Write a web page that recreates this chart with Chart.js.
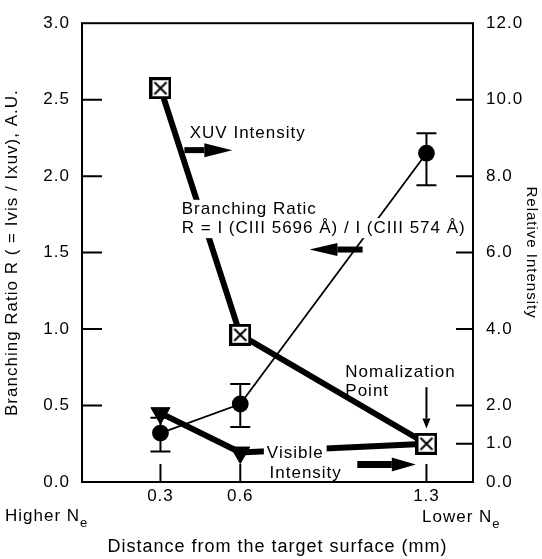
<!DOCTYPE html>
<html>
<head>
<meta charset="utf-8">
<script src="https://cdn.jsdelivr.net/npm/chart.js@4.4.1/dist/chart.umd.min.js"></script>
<style>
  html, body { margin: 0; padding: 0; background: #fff; }
</style>
</head>
<body>
<canvas id="chart" width="542" height="559"></canvas>
<script>
// distance from target surface (mm)
const distances = [0.3, 0.6, 1.3];
// branching ratio R (left axis) with error bar limits
const ratioValues = [0.32, 0.51, 2.15];
const ratioLow = [0.20, 0.36, 1.94];
const ratioHigh = [0.42, 0.64, 2.28];
// relative intensities (right axis), normalised at 1.3 mm
const xuvIntensity = [10.3, 3.85, 1.0];
const visibleIntensity = [1.8, 0.77, 1.0];
// tick labels
const xTicks = [0.3, 0.6, 1.3];
const leftTicks = [0, 0.5, 1.0, 1.5, 2.0, 2.5, 3.0];
const rightTicks = [0, 1, 2, 4, 6, 8, 10, 12];

const FONT = '"Liberation Sans", Arial, sans-serif';
Chart.defaults.font.family = FONT;
Chart.defaults.color = '#000';

function pts(ys) {
  return distances.map((x, i) => ({ x: x, y: ys[i] }));
}

// square with a cross, used for the XUV points
function boxCross(size) {
  const c = document.createElement('canvas');
  c.width = size; c.height = size;
  const g = c.getContext('2d');
  g.fillStyle = '#fff';
  g.fillRect(0, 0, size, size);
  g.strokeStyle = '#000';
  g.lineWidth = 3;
  g.strokeRect(1.5, 1.5, size - 3, size - 3);
  g.lineWidth = 2;
  g.beginPath();
  g.moveTo(5, 5); g.lineTo(size - 5, size - 5);
  g.moveTo(size - 5, 5); g.lineTo(5, size - 5);
  g.stroke();
  return c;
}

function arrow(ctx, x1, y1, x2, y2, w, headLen, headW) {
  const a = Math.atan2(y2 - y1, x2 - x1);
  const bx = x2 - Math.cos(a) * headLen, by = y2 - Math.sin(a) * headLen;
  ctx.lineWidth = w;
  ctx.beginPath();
  ctx.moveTo(x1, y1);
  ctx.lineTo(bx, by);
  ctx.stroke();
  ctx.beginPath();
  ctx.moveTo(x2, y2);
  ctx.lineTo(bx + Math.sin(a) * headW / 2, by - Math.cos(a) * headW / 2);
  ctx.lineTo(bx - Math.sin(a) * headW / 2, by + Math.cos(a) * headW / 2);
  ctx.closePath();
  ctx.fill();
}

const spacing = {
  id: 'spacing',
  beforeDraw(chart) { chart.ctx.letterSpacing = '1px'; }
};

const errorBars = {
  id: 'errorBars',
  beforeDatasetsDraw(chart) {
    const { ctx, scales: { x, y } } = chart;
    ctx.save();
    ctx.strokeStyle = '#000';
    ctx.lineWidth = 2;
    distances.forEach((d, i) => {
      const px = x.getPixelForValue(d);
      const lo = y.getPixelForValue(ratioLow[i]);
      const hi = y.getPixelForValue(ratioHigh[i]);
      ctx.beginPath();
      ctx.moveTo(px, lo); ctx.lineTo(px, hi);
      ctx.moveTo(px - 10, lo); ctx.lineTo(px + 10, lo);
      ctx.moveTo(px - 10, hi); ctx.lineTo(px + 10, hi);
      ctx.stroke();
    });
    ctx.restore();
  }
};

const notes = {
  id: 'notes',
  afterDatasetsDraw(chart) {
    const { ctx, scales: { x, y } } = chart;
    const X = v => x.getPixelForValue(v), Y = v => y.getPixelForValue(v);
    ctx.save();
    ctx.font = '17px ' + FONT;
    ctx.textBaseline = 'middle';
    const label = (t, vx, vy, bg) => {
      const px = X(vx), py = Y(vy);
      if (bg) {
        const w = ctx.measureText(t).width;
        ctx.fillStyle = '#fff';
        ctx.fillRect(px - 3, py - 10, w + 6, 20);
      }
      ctx.fillStyle = '#000';
      ctx.fillText(t, px, py);
    };
    label('XUV Intensity', 0.41, 2.28, true);
    label('Branching Ratic', 0.38, 1.78, true);
    label('R = I (CIII 5696 \u00C5) / I (CIII 574 \u00C5)', 0.38, 1.66, true);
    label('Nomalization', 0.995, 0.72, false);
    label('Point', 0.995, 0.59, false);
    label('Visible', 0.70, 0.19, true);
    label('Intensity', 0.71, 0.06, true);

    ctx.strokeStyle = '#000';
    ctx.fillStyle = '#000';
    arrow(ctx, X(0.39), Y(2.17), X(0.57), Y(2.17), 6, 28, 14);
    arrow(ctx, X(1.06), Y(1.52), X(0.86), Y(1.52), 6, 28, 13);
    arrow(ctx, X(1.30), Y(0.62), X(1.30), Y(0.35), 2, 10, 8);
    arrow(ctx, X(1.04), Y(0.115), X(1.26), Y(0.115), 7, 24, 14);
    ctx.restore();
  }
};

const frame = {
  id: 'frame',
  afterDraw(chart) {
    const { ctx, chartArea: a, scales: { x, y, y2 } } = chart;
    ctx.save();
    ctx.strokeStyle = '#000';
    ctx.lineWidth = 2;
    ctx.strokeRect(a.left, a.top, a.right - a.left, a.bottom - a.top);
    ctx.beginPath();
    leftTicks.slice(1, -1).forEach(v => {
      const py = y.getPixelForValue(v);
      ctx.moveTo(a.left, py); ctx.lineTo(a.left + 20, py);
    });
    rightTicks.slice(1, -1).forEach(v => {
      const py = y2.getPixelForValue(v);
      ctx.moveTo(a.right, py); ctx.lineTo(a.right - 17, py);
    });
    xTicks.forEach(v => {
      const px = x.getPixelForValue(v);
      ctx.moveTo(px, a.bottom); ctx.lineTo(px, a.bottom - 18);
    });
    ctx.stroke();

    // density labels under the axis ends
    ctx.fillStyle = '#000';
    ctx.textBaseline = 'alphabetic';
    const ne = (t, px, py) => {
      ctx.font = '17px ' + FONT;
      ctx.fillText(t, px, py);
      const w = ctx.measureText(t).width;
      ctx.font = '13px ' + FONT;
      ctx.fillText('e', px + w, py + 6);
    };
    ne('Higher N', 5, 521);
    ne('Lower N', 422, 522);
    ctx.restore();
  }
};

new Chart(document.getElementById('chart'), {
  type: 'line',
  data: {
    datasets: [
      {
        label: 'XUV Intensity',
        data: pts(xuvIntensity),
        yAxisID: 'y2',
        borderColor: '#000',
        borderWidth: 6,
        pointStyle: boxCross(22),
        pointRadius: 11,
        order: 0
      },
      {
        label: 'Visible Intensity',
        data: pts(visibleIntensity),
        yAxisID: 'y2',
        borderColor: '#000',
        backgroundColor: '#000',
        borderWidth: 6,
        pointStyle: 'triangle',
        pointRotation: 180,
        pointRadius: 11,
        pointBorderWidth: 1,
        order: 1
      },
      {
        label: 'Branching Ratio',
        data: pts(ratioValues),
        yAxisID: 'y',
        borderColor: '#000',
        backgroundColor: '#000',
        borderWidth: 1.8,
        pointStyle: 'circle',
        pointRadius: 7.5,
        order: 2
      }
    ]
  },
  options: {
    responsive: false,
    animation: false,
    layout: { padding: { top: 15, left: 0, right: 0, bottom: 0 } },
    plugins: { legend: { display: false }, tooltip: { enabled: false } },
    scales: {
      x: {
        type: 'linear',
        min: 0.005,
        max: 1.475,
        grid: { display: false, drawTicks: false },
        border: { display: false },
        afterBuildTicks: s => { s.ticks = xTicks.map(v => ({ value: v })); },
        afterFit: s => { s.height = 77; },
        ticks: { padding: 4, font: { size: 17 }, callback: v => v.toFixed(1) },
        title: {
          display: true,
          text: 'Distance from the target surface (mm)',
          font: { size: 18 },
          padding: { top: 0, bottom: 1 }
        }
      },
      y: {
        position: 'left',
        min: 0,
        max: 3,
        grid: { display: false, drawTicks: false },
        border: { display: false },
        afterBuildTicks: s => { s.ticks = leftTicks.map(v => ({ value: v })); },
        afterFit: s => { s.width = 82; },
        ticks: { padding: 12, font: { size: 17 }, callback: v => v.toFixed(1) },
        title: {
          display: true,
          text: 'Branching Ratio R ( = Ivis / Ixuv), A.U.',
          font: { size: 17 },
          padding: { top: 2, bottom: 0 }
        }
      },
      y2: {
        position: 'right',
        min: 0,
        max: 12,
        grid: { display: false, drawTicks: false },
        border: { display: false },
        afterBuildTicks: s => { s.ticks = rightTicks.map(v => ({ value: v })); },
        afterFit: s => { s.width = 69; },
        ticks: { padding: 13, font: { size: 17 }, callback: v => v.toFixed(1) },
        title: {
          display: true,
          text: 'Relative Intensity',
          font: { size: 15 },
          padding: { top: 2, bottom: 0 }
        }
      }
    }
  },
  plugins: [spacing, errorBars, notes, frame]
});
</script>
</body>
</html>
